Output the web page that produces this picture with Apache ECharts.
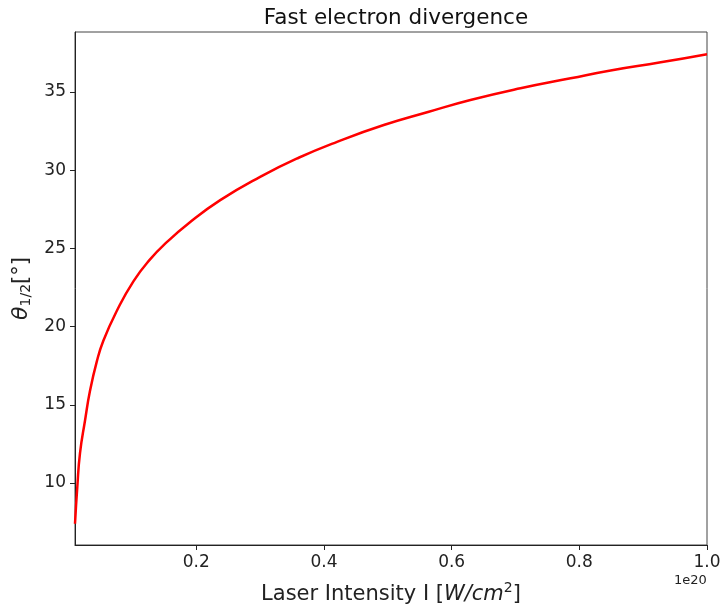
<!DOCTYPE html>
<html>
<head>
<meta charset="utf-8">
<script src="https://cdn.jsdelivr.net/npm/echarts@6/dist/echarts.min.js"></script>
<style>
  html, body { margin: 0; padding: 0; background: #fff; }
  #chart { width: 720px; height: 610px; }
</style>
</head>
<body>
<div id="chart"></div>
<script>
// intensity in units of 1e20 W/cm^2
var intensity = [0.01, 0.0136, 0.0178, 0.0257, 0.0335, 0.044, 0.0544, 0.0754, 0.1015, 0.1276,
  0.1538, 0.1877, 0.2375, 0.300, 0.3603, 0.4205, 0.4937, 0.5643, 0.6294, 0.7078,
  0.7863, 0.849, 0.9275, 1.0];
// half angle in degrees
var theta = [7.4, 9.75, 11.9, 14.0, 15.9, 17.75, 19.1, 21.0, 22.9, 24.3,
  25.4, 26.6, 28.09, 29.58, 30.8, 31.82, 32.89, 33.74, 34.49, 35.24,
  35.88, 36.38, 36.9, 37.42];
var xTicks = [0.2, 0.4, 0.6, 0.8, 1.0];
var yTicks = [10, 15, 20, 25, 30, 35];

var points = intensity.map(function (x, i) { return [x, theta[i]]; });
var font = "DejaVu Sans";

var chart = echarts.init(document.getElementById("chart"));
chart.setOption({
  animation: false,
  title: {
    text: "Fast electron divergence",
    left: 391, top: 2, textAlign: "center",
    textStyle: { fontFamily: font, fontSize: 21.5, fontWeight: "normal", color: "#111" }
  },
  grid: {
    left: 75, right: 13, top: 32, bottom: 65,
    outerBoundsMode: "none",
    show: true, borderColor: "#444", borderWidth: 1, backgroundColor: "#fff"
  },
  xAxis: {
    type: "value",
    min: 0.01, max: 1.0,
    axisLine: { show: true, lineStyle: { color: "#222", width: 1 } },
    axisTick: { show: true, length: 5, inside: false, customValues: xTicks, lineStyle: { color: "#222" } },
    axisLabel: {
      customValues: xTicks, margin: 9,
      fontFamily: font, fontSize: 17, color: "#222",
      formatter: function (v) { return v.toFixed(1); }
    },
    splitLine: { show: false },
    name: "Laser Intensity I [{i|W/cm}{s|2}]",
    nameLocation: "middle", nameGap: 36,
    nameTextStyle: {
      fontFamily: font, fontSize: 21, color: "#222",
      rich: {
        i: { fontFamily: font, fontSize: 21, fontStyle: "italic", color: "#222" },
        s: { fontFamily: font, fontSize: 14, color: "#222", padding: [0, 0, 14, 0] }
      }
    }
  },
  yAxis: {
    type: "value",
    min: 6.04, max: 38.84,
    axisLine: { show: true, lineStyle: { color: "#222", width: 1 } },
    axisTick: { show: true, length: 5, inside: false, customValues: yTicks, lineStyle: { color: "#222" } },
    axisLabel: {
      customValues: yTicks, margin: 9,
      fontFamily: font, fontSize: 17, color: "#222"
    },
    splitLine: { show: false },
    name: "{t|θ}{s|1/2}{n|[°]}",
    nameLocation: "middle", nameRotate: 90, nameGap: 40,
    nameTextStyle: {
      fontFamily: font, fontSize: 21, color: "#222",
      rich: {
        t: { fontFamily: font, fontSize: 22, fontStyle: "italic", color: "#222" },
        s: { fontFamily: font, fontSize: 14, color: "#222", padding: [10, 0, 0, 0] },
        n: { fontFamily: font, fontSize: 21, color: "#222" }
      }
    }
  },
  graphic: [{
    type: "text", left: 674, top: 574,
    style: { text: "1e20", fontFamily: font, fontSize: 13, fill: "#222" }
  }],
  series: [{
    type: "line",
    data: points,
    smooth: 0.5,
    showSymbol: false,
    lineStyle: { color: "#ff0000", width: 2.5 }
  }]
});
</script>
</body>
</html>
